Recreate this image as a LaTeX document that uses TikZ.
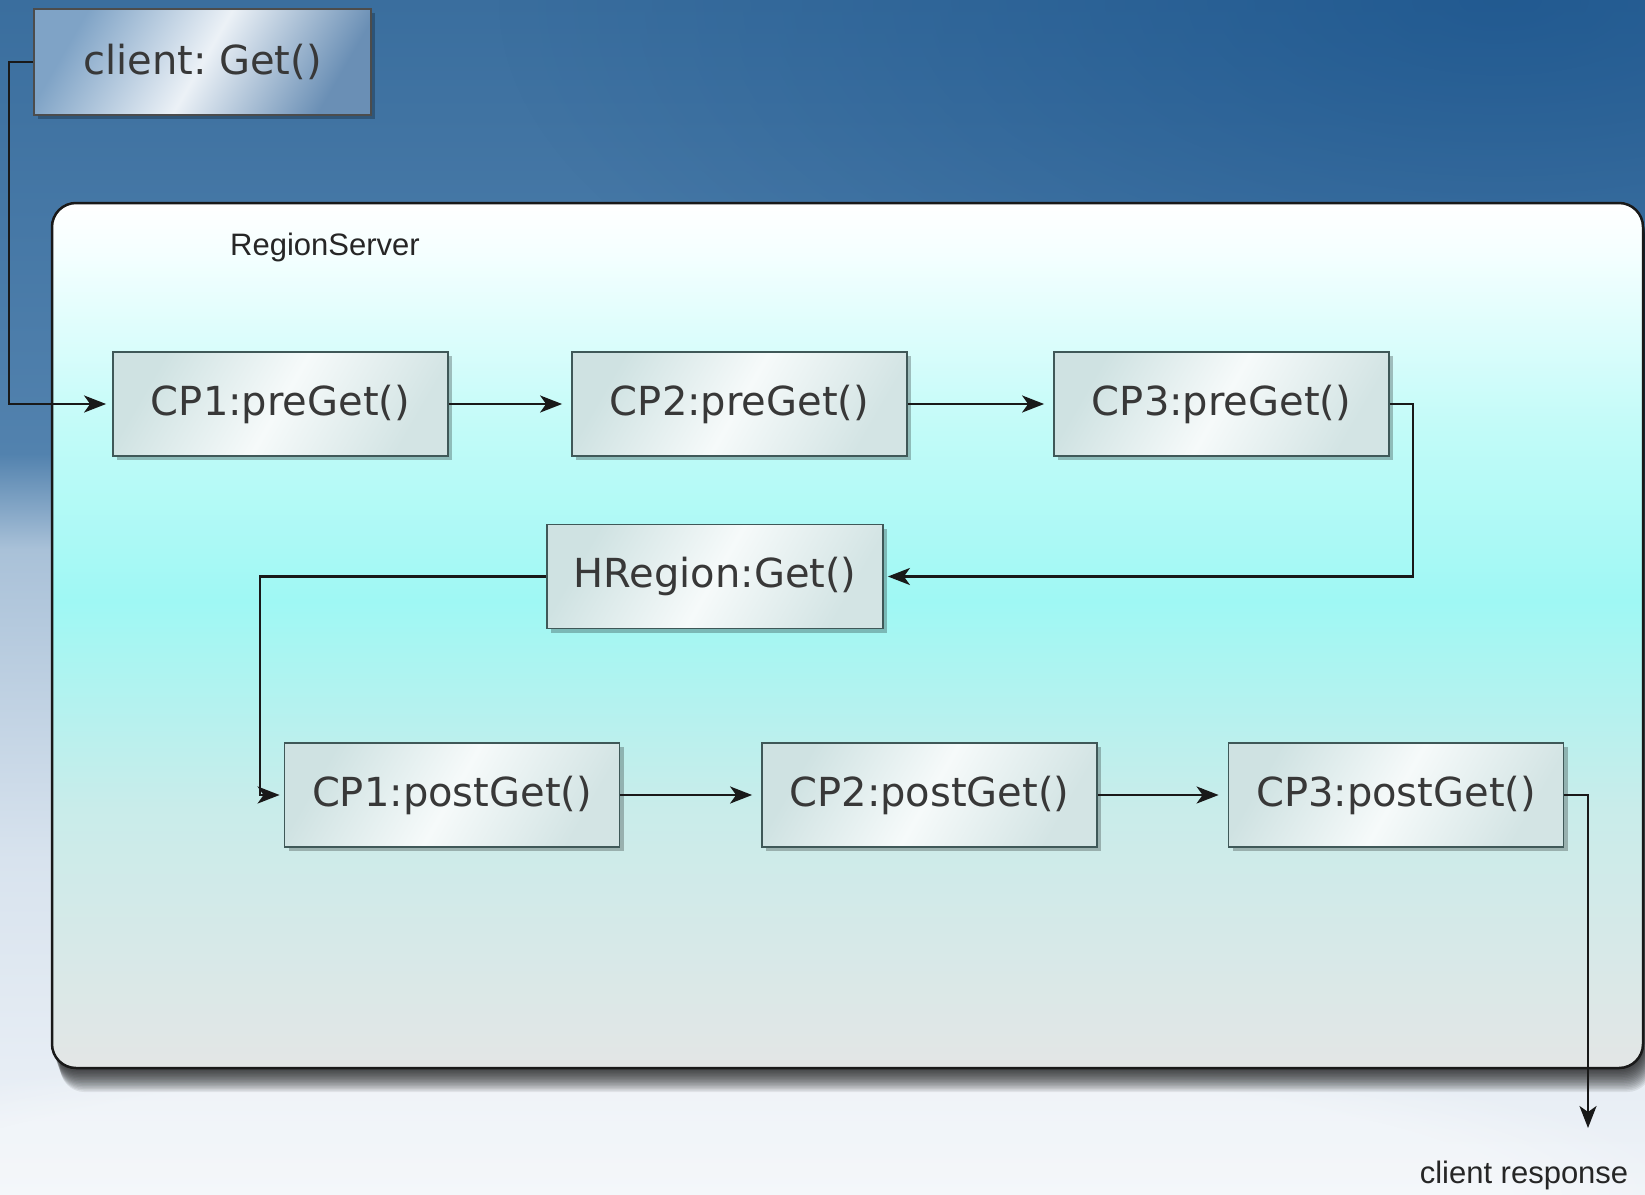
\documentclass[tikz,border=0pt]{standalone}
\usepackage{fontspec}
\newfontfamily\boxfont{DejaVu Sans}
\newfontfamily\lblfont{Liberation Sans}
\usetikzlibrary{arrows.meta,shadows,fadings,calc}
\tikzfading[name=softcircle, inner color=transparent!0, outer color=transparent!100]
\definecolor{bgA}{HTML}{3A6E9E}
\definecolor{bgB}{HTML}{5282AE}
\definecolor{bgC}{HTML}{A9C1D8}
\definecolor{bgC2}{HTML}{D8E3EE}
\definecolor{bgD}{HTML}{EFF3F8}
\definecolor{bgDark}{HTML}{124D88}
\definecolor{rsA}{HTML}{E3E6E6}
\definecolor{rsB}{HTML}{C9ECEA}
\definecolor{rsC}{HTML}{9FF8F4}
\definecolor{rsD}{HTML}{C2FBF8}
\definecolor{rsE}{HTML}{F4FFFF}
\definecolor{boxL}{HTML}{CFE2E2}
\definecolor{boxR}{HTML}{D3E4E4}
\definecolor{boxM}{HTML}{F6FAFA}
\definecolor{boxBorder}{HTML}{3F5858}
\definecolor{cliL}{HTML}{7FA3C6}
\definecolor{cliR}{HTML}{6A8FB5}
\definecolor{txt}{HTML}{383838}
\pgfdeclareverticalshading{bgshade}{100bp}{color(0bp)=(bgD); color(25bp)=(bgD); color(39bp)=(bgC2); color(52bp)=(bgC); color(56bp)=(bgB); color(75bp)=(bgA); color(100bp)=(bgA)}
\pgfdeclareverticalshading{rsshade}{100bp}{color(0bp)=(rsA); color(25bp)=(rsA); color(40bp)=(rsB); color(52bp)=(rsC); color(62bp)=(rsD); color(72bp)=(rsE); color(75bp)=(white); color(100bp)=(white)}
\tikzset{
  cpbox/.style={draw=boxBorder, line width=1.8pt, left color=boxL, right color=boxR, middle color=boxM,
    minimum width=335pt, minimum height=104pt, inner sep=0pt, text=txt,
    font=\boxfont\fontsize{40}{48}\selectfont,
    drop shadow={shadow xshift=4pt, shadow yshift=-4pt, opacity=0.25, fill=black}, shading angle=60},
  clibox/.style={cpbox, left color=cliL, right color=cliR, middle color=white!85!cliL, draw=black!70, shading angle=60},
  conn/.style={draw=black!90, line width=2.5pt, -{Stealth[length=22pt,width=17pt,inset=6pt]}},
  lbl/.style={font=\lblfont\fontsize{31}{36}\selectfont, text=black!85, inner sep=0pt}
}
\begin{document}
\begin{tikzpicture}[x=1pt,y=-1pt]
\useasboundingbox (0,0) rectangle (1645,1194);
% background
\shade[shading=bgshade] (0,0) rectangle (1645,1194);
\fill[bgDark, opacity=0.6, path fading=softcircle] (1500,0) ellipse (1000 and 450);
\fill[white, opacity=0.35, path fading=circle with fuzzy edge 20 percent] (700,1194) ellipse (1000 and 160);
% RegionServer container (soft shadow)
\foreach \s in {1.5,3,...,24} {
  \fill[black, opacity=0.07, rounded corners=24pt] ($(52,203)+(0.35*\s,\s)$) rectangle ($(1643,1068)+(0.35*\s,\s)$);
}
\shade[shading=rsshade, rounded corners=24pt, draw=black!90, line width=2.5pt] (52,203) rectangle (1643,1068);
\node[lbl] (rs) at (325,247) {RegionServer};
% nodes
\node[clibox, minimum width=337pt, minimum height=106pt] (client) at (202.5,62) {client:\ Get()};
\node[cpbox] (cp1a) at (280.5,404) {CP1:preGet()};
\node[cpbox] (cp2a) at (739.5,404) {CP2:preGet()};
\node[cpbox] (cp3a) at (1221.5,404) {CP3:preGet()};
\node[cpbox, minimum width=336pt] (hr) at (715,576.5) {HRegion:Get()};
\node[cpbox] (cp1b) at (452,795) {CP1:postGet()};
\node[cpbox] (cp2b) at (929.5,795) {CP2:postGet()};
\node[cpbox] (cp3b) at (1396,795) {CP3:postGet()};
\coordinate (resp) at (1588,1128);
\node[lbl] (resplbl) at (1524,1175) {client response};
% connectors
\draw[conn, shorten >=6pt] (client.west) -- ++(-24,0) |- (cp1a.west);
\draw[conn, shorten >=9pt] (cp1a.east) -- (cp2a.west);
\draw[conn, shorten >=9pt] (cp2a.east) -- (cp3a.west);
\draw[conn, shorten >=4pt] (cp3a.east) -- ++(23,0) |- (hr.east);
\draw[conn, shorten >=4pt] (hr.west) -- ++(-286,0) |- (cp1b.west);
\draw[conn, shorten >=9pt] (cp1b.east) -- (cp2b.west);
\draw[conn, shorten >=9pt] (cp2b.east) -- (cp3b.west);
\draw[conn] (cp3b.east) -| (resp);
\end{tikzpicture}
\end{document}
